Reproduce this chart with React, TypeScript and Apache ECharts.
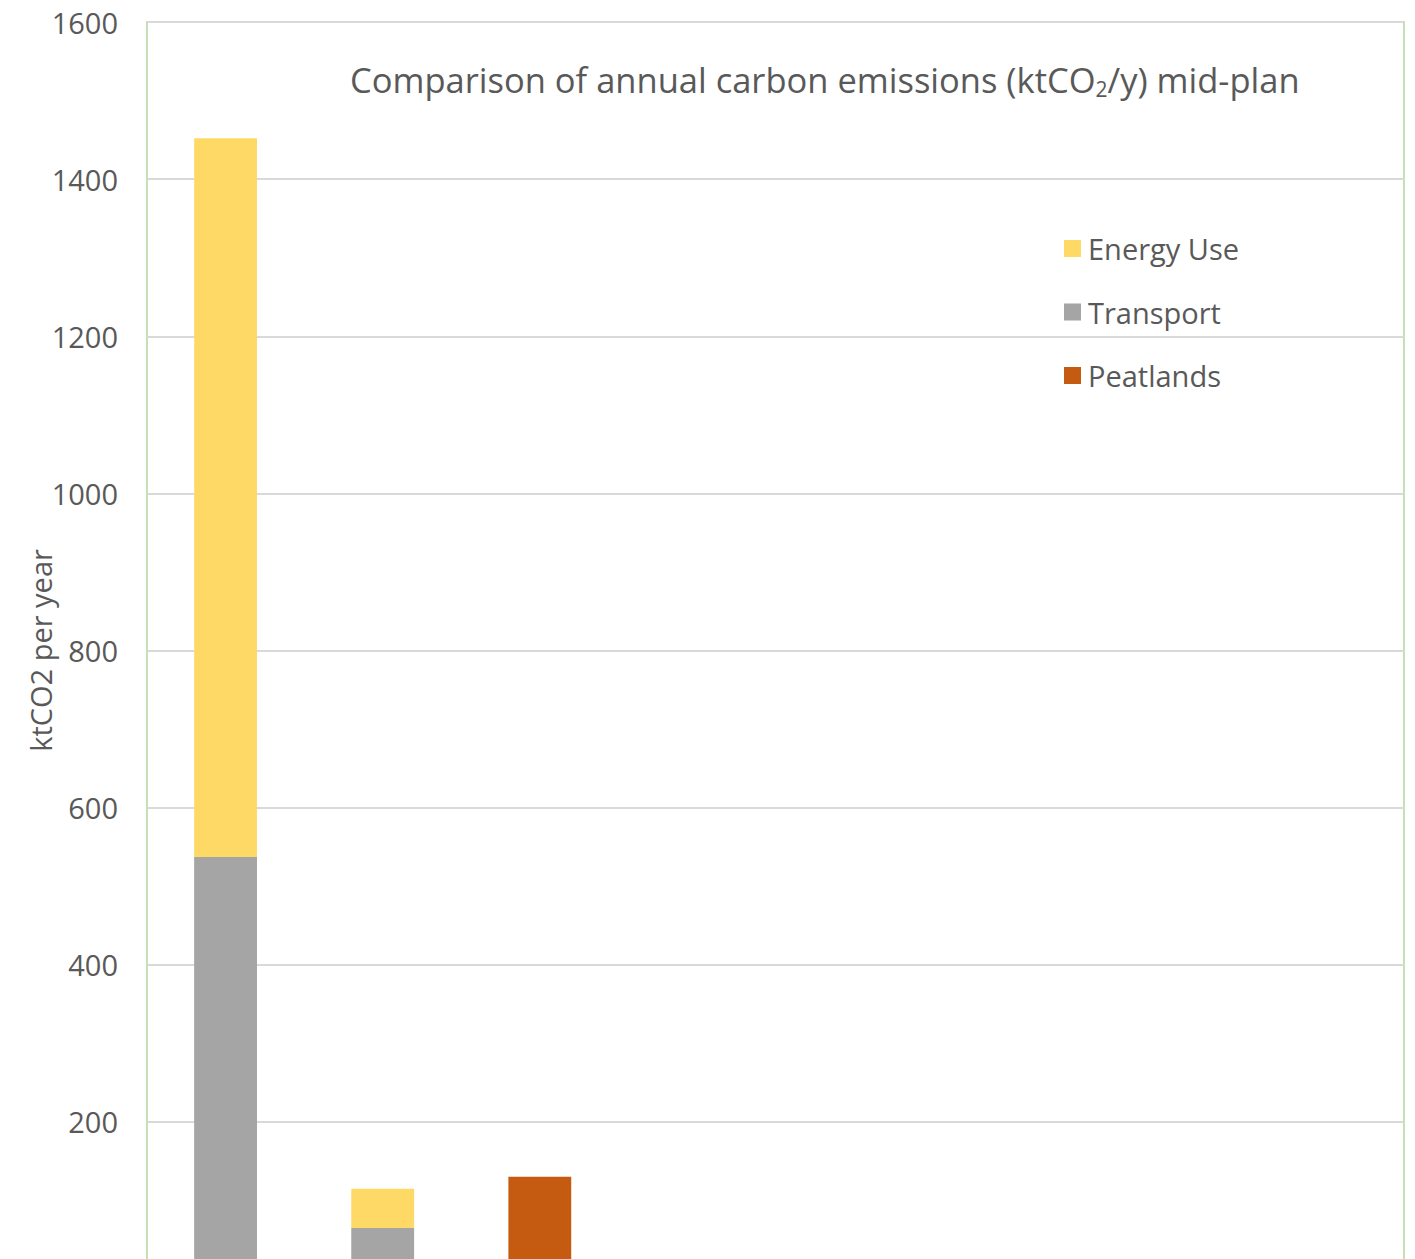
import React, { useEffect, useRef } from "react";
import * as echarts from "echarts";

const categories = ["Baseline", "Plan", "Peatlands", "", " ", "  ", "   ", "    "];
const transport = [537, 65, null, null, null, null, null, null];
const energyUse = [915, 50, null, null, null, null, null, null];
const peatlands = [null, null, 130, null, null, null, null, null];
const yTicks = { min: 0, max: 1600, interval: 200 };

const FONT = "Open Sans";
const TEXT = "#595959";

export default function App() {
  const ref = useRef<HTMLDivElement>(null);
  useEffect(() => {
    if (!ref.current) return;
    const chart = echarts.init(ref.current, undefined, { renderer: "svg" });
    chart.setOption({
      animation: false,
      backgroundColor: "#ffffff",
      textStyle: { fontFamily: FONT },
      title: {
        left: 345,
        top: 55,
        text: "{a|Comparison of annual carbon emissions (ktCO}{s|2}{a|/y) mid-plan}",
        textStyle: {
          fontWeight: "normal",
          rich: {
            a: { fontFamily: FONT, fontSize: 34.5, fontWeight: "normal", color: TEXT },
            s: { fontFamily: FONT, fontSize: 21, fontWeight: "normal", color: TEXT, padding: [18, 0, 0, 0] },
          },
        },
      },
      legend: {
        orient: "vertical",
        left: 1059,
        top: 229,
        itemWidth: 17,
        itemHeight: 17,
        itemGap: 34.5,
        icon: "rect",
        data: ["Energy Use", "Transport", "Peatlands"],
        textStyle: { fontFamily: FONT, fontSize: 29, color: TEXT, padding: [0, 0, 0, 2] },
      },
      grid: {
        left: 147,
        top: 22,
        right: 11,
        bottom: 21,
        show: true,
        borderColor: "#C5E0B4",
        borderWidth: 2,
        containLabel: false,
      },
      xAxis: {
        type: "category",
        data: categories,
        axisLine: { show: false },
        axisTick: { show: false },
        axisLabel: { show: false },
      },
      yAxis: {
        type: "value",
        min: yTicks.min,
        max: yTicks.max,
        interval: yTicks.interval,
        name: "ktCO2 per year",
        nameLocation: "middle",
        nameGap: 92,
        nameMoveOverlap: false,
        nameTextStyle: { fontFamily: FONT, fontSize: 29, color: TEXT },
        axisLine: { show: false },
        axisTick: { show: false },
        axisLabel: {
          fontFamily: FONT,
          fontSize: 29,
          color: TEXT,
          margin: 29,
          showMinLabel: false,
          formatter: (v: number) => String(v),
        },
        splitLine: { lineStyle: { color: "#D9D9D9", width: 2 } },
      },
      series: [
        {
          name: "Transport",
          type: "bar",
          stack: "total",
          data: transport,
          barCategoryGap: "60%",
          itemStyle: { color: "#A5A5A5" },
        },
        {
          name: "Energy Use",
          type: "bar",
          stack: "total",
          data: energyUse,
          itemStyle: { color: "#FFD966" },
        },
        {
          name: "Peatlands",
          type: "bar",
          stack: "total",
          data: peatlands,
          itemStyle: { color: "#C55A11" },
        },
      ],
    });
    return () => chart.dispose();
  }, []);
  return (
    <div style={{ position: "absolute", left: 0, top: 0, width: 1415, height: 1259, overflow: "hidden", background: "#fff" }}>
      <div ref={ref} style={{ width: 1415, height: 1300 }} />
    </div>
  );
}
